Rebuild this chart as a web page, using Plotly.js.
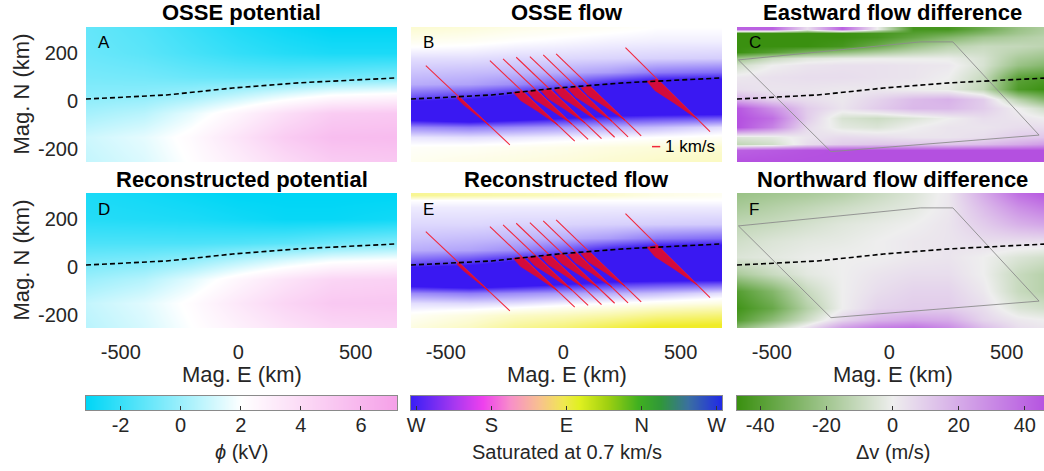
<!DOCTYPE html>
<html><head><meta charset="utf-8">
<script src="https://cdn.plot.ly/plotly-3.0.1.min.js"></script>
<style>html,body{margin:0;padding:0;background:#fff}#chart{width:1044px;height:471px}</style>
</head><body><div id="chart"></div>
<script>
// ---------------- DATA ----------------
const magE7  = [-648, -400, -200, 0, 200, 400, 676];
const magE10 = [-648, -500, -350, -200, -50, 100, 250, 400, 550, 676];

// Electric potential (kV)
const potN = [-254, -150, -50, 30, 100, 200, 308];
const potOSSE = [
  [0.8, 1.3, 2.1, 3.0, 4.0, 4.8, 5.0],
  [1.0, 1.5, 2.3, 3.5, 4.8, 5.6, 5.7],
  [0.2, 0.6, 1.5, 2.6, 3.8, 4.8, 5.0],
  [-0.4, -0.3, 0.0, 0.6, 1.3, 1.9, 2.2],
  [-0.7, -0.8, -1.0, -1.1, -1.1, -0.9, -0.6],
  [-1.0, -1.3, -1.7, -2.1, -2.4, -2.6, -2.6],
  [-1.1, -1.5, -2.0, -2.5, -2.9, -3.2, -3.2]
];
const potRecon = [
  [0.6, 1.2, 2.0, 2.8, 3.6, 4.2, 4.4],
  [0.8, 1.4, 2.2, 3.3, 4.3, 5.0, 5.1],
  [0.0, 0.5, 1.4, 2.5, 3.5, 4.3, 4.5],
  [-0.8, -0.6, -0.2, 0.5, 1.2, 1.8, 2.1],
  [-1.6, -1.6, -1.6, -1.5, -1.3, -0.9, -0.5],
  [-2.4, -2.5, -2.6, -2.8, -3.0, -3.0, -2.8],
  [-2.6, -2.8, -3.0, -3.2, -3.2, -3.2, -3.2]
];

// Westward flow speed (km/s, negative = eastward), colour saturated at 0.7 km/s
const flowN_OSSE = [-254, -190, -150, -110, -70, -30, 20, 70, 120, 180, 250, 308];
const flowOSSE = [
  [-0.05, -0.08, -0.10, -0.12, -0.15, -0.18, -0.20],
  [-0.02, -0.03, -0.05, -0.07, -0.10, -0.12, -0.15],
  [0.08, 0.10, 0.08, 0.05, 0.03, 0.00, -0.03],
  [0.35, 0.40, 0.35, 0.30, 0.25, 0.20, 0.10],
  [0.80, 0.90, 0.80, 0.70, 0.60, 0.55, 0.50],
  [1.00, 1.00, 1.00, 1.00, 1.00, 1.00, 1.00],
  [0.50, 0.60, 0.75, 0.90, 1.00, 1.00, 1.00],
  [0.25, 0.28, 0.35, 0.50, 0.70, 0.85, 0.90],
  [0.18, 0.20, 0.22, 0.25, 0.30, 0.40, 0.45],
  [0.10, 0.10, 0.12, 0.12, 0.13, 0.14, 0.15],
  [-0.05, -0.03, 0.00, 0.02, 0.04, 0.05, 0.05],
  [-0.15, -0.12, -0.08, -0.05, -0.03, 0.00, 0.00]
];
const flowN_Recon = [-254, -200, -150, -110, -70, -30, 20, 70, 120, 180, 250, 280, 298, 308];
const flowRecon = [
  [-0.10, -0.20, -0.35, -0.45, -0.60, -0.75, -0.80],
  [-0.03, -0.10, -0.18, -0.22, -0.28, -0.38, -0.45],
  [0.10, 0.12, 0.10, 0.05, 0.00, -0.05, -0.10],
  [0.35, 0.40, 0.35, 0.30, 0.25, 0.20, 0.10],
  [0.80, 0.90, 0.80, 0.70, 0.60, 0.55, 0.50],
  [1.00, 1.00, 1.00, 1.00, 1.00, 1.00, 1.00],
  [0.50, 0.60, 0.75, 0.90, 1.00, 1.00, 1.00],
  [0.25, 0.28, 0.35, 0.50, 0.70, 0.85, 0.90],
  [0.18, 0.20, 0.22, 0.25, 0.30, 0.40, 0.45],
  [0.12, 0.12, 0.13, 0.13, 0.14, 0.15, 0.16],
  [0.06, 0.06, 0.06, 0.06, 0.06, 0.06, 0.06],
  [0.00, 0.00, 0.00, 0.00, 0.00, 0.00, 0.00],
  [-0.35, -0.30, -0.25, -0.20, -0.15, -0.08, -0.04],
  [-0.35, -0.30, -0.25, -0.20, -0.15, -0.08, -0.04]
];

// Flow differences (m/s)
const dEastN = [-254, -205, -180, -150, -110, -70, -30, 10, 50, 100, 150, 180, 205, 230, 265, 285, 298, 308];
const dEast = [
  [47, 47, 47, 47, 47, 47, 47, 47, 47, 47],
  [42, 44, 46, 47, 47, 47, 47, 47, 47, 47],
  [-12, -8, 5, 10, 12, 12, 12, 15, 20, 25],
  [-5, -3, 3, 6, 5, 3, 3, 5, 10, 12],
  [47, 32, 6, -3, -5, 0, 3, 3, 5, 5],
  [47, 38, 10, -6, -9, -5, 0, 5, 3, 0],
  [45, 28, 10, 3, 10, 16, 16, 10, 0, -10],
  [18, 8, 5, 2, 8, 15, 18, 10, -15, -30],
  [5, 3, 3, 2, 2, 0, -2, -12, -42, -47],
  [2, 4, 5, 5, 4, 3, 0, -10, -38, -42],
  [-8, 0, 3, 4, 4, 3, 2, -6, -22, -28],
  [-22, -10, -4, -2, -1, -1, -1, -6, -18, -22],
  [-47, -40, -30, -24, -18, -12, -8, -8, -14, -18],
  [-47, -47, -47, -44, -34, -22, -14, -10, -11, -13],
  [-47, -47, -47, -47, -44, -36, -28, -20, -16, -13],
  [-47, -47, -47, -47, -44, -40, -36, -28, -20, -15],
  [42, 42, 5, 42, 0, -44, -44, -34, -22, -16],
  [42, 42, 5, 42, 0, -44, -44, -34, -22, -16]
];
const dNorthN = [-254, -220, -170, -100, -30, 40, 110, 180, 250, 308];
const dNorth = [
  [-25, -10, 5, 25, 35, 38, 30, 15, 5, 2],
  [-40, -25, -8, 8, 18, 22, 20, 8, 2, 0],
  [-45, -35, -15, 0, 8, 10, 10, 5, -5, -8],
  [-40, -28, -10, 0, 5, 8, 8, 2, -10, -15],
  [-18, -10, -3, 0, 3, 5, 5, 0, -10, -15],
  [-5, -3, -1, 0, 0, 2, 3, 0, -5, -8],
  [-8, -5, -3, -2, 0, 2, 3, 5, 5, 5],
  [-12, -10, -7, -4, -2, 0, 3, 10, 18, 22],
  [-18, -15, -12, -9, -6, -3, 2, 15, 28, 35],
  [-22, -20, -18, -15, -10, -5, 2, 20, 38, 45]
];

// Dashed boundary line (km)
const boundaryE = [-648, -305, -23, 264, 676];
const boundaryN = [8, 25, 54, 76, 96];

// Data-coverage outline (km)
const coverageE = [-642, 132, 271, 638, -248, -642];
const coverageN = [171, 246, 246, -142, -211, 171];

// Measurement tracks (km) and the envelope of their flow vectors
const trackStartE = [-585, -312, -256, -200, -142, -85, -30, 265];
const trackStartN = [147, 168, 175, 182, 185, 192, 196, 222];
const trackEndE   = [-227, 49, 106, 163, 219, 276, 332, 625];
const trackEndN   = [-183, -167, -160, -157, -151, -149, -145, -128];
const vecTopN     = [18, 42, 46, 50, 54, 58, 62, 90];
const vecTipN     = [-100, -100, -96, -92, -88, -84, -80, -75];
const vecWidthE   = [16, 48, 48, 48, 48, 48, 48, 58];

// Tick labels
const eTickVals = [-500, 0, 500], eTickText = ['-500', '0', '500'];
const nTickVals = [-200, 0, 200], nTickText = ['-200', '0', '200'];
const potTickVals = [-2, 0, 2, 4, 6], potTickText = ['-2', '0', '2', '4', '6'];
const dirTickVals = [0, 1, 2, 3, 4], dirTickText = ['W', 'S', 'E', 'N', 'W'];
const dvTickVals = [-40, -20, 0, 20, 40], dvTickText = ['-40', '-20', '0', '20', '40'];

// ---------------- STYLE ----------------
const W = 1044, H = 471;
const FONT = 'Liberation Sans, Arial, Helvetica, sans-serif';
const potRange = [-3.15, 7.2], flowSat = 0.7, dvRange = [-47, 47];
const potScale = [[0, '#00d6f6'], [0.5, '#ffffff'], [1, '#f5a0e8']];
const flowScale = [[0, '#f0ec28'], [0.5, '#ffffff'], [1, '#3a18f2']];
const dvScale = [[0, '#3a9010'], [0.5, '#eeeeee'], [1, '#b450e0']];
const hueScale = [[0, '#3a1ff5'], [0.14, '#a838f0'], [0.23, '#ee40ee'], [0.32, '#f890c8'],
  [0.41, '#f8c090'], [0.49, '#f0e850'], [0.54, '#e0f020'], [0.63, '#a0d010'], [0.73, '#40b020'],
  [0.8, '#309838'], [0.89, '#3a70a0'], [1, '#2028e8']];

const E0 = -648, E1 = 676;
const colPx = [[86, 397], [411, 722], [737, 1044]];
const E1c = E0 + (E1 - E0) * (1044 - 737) / 311;
const rowPx = [[27, 162], [193, 328]];
const barPx = [396, 410];
const dx = p => [p[0] / W, p[1] / W];
const dy = p => [1 - p[1] / H, 1 - p[0] / H];

const traces = [];
function heat(xa, ya, x, y, z, scale, zmin, zmax) {
  traces.push({type: 'heatmap', x: x, y: y, z: z, colorscale: scale, zmin: zmin, zmax: zmax,
    zsmooth: 'best', showscale: false, hoverinfo: 'skip', xaxis: xa, yaxis: ya});
}
heat('x', 'y', magE7, potN, potOSSE, potScale, potRange[0], potRange[1]);
heat('x2', 'y2', magE7, flowN_OSSE, flowOSSE, flowScale, -flowSat, flowSat);
heat('x3', 'y3', magE10, dEastN, dEast, dvScale, dvRange[0], dvRange[1]);
heat('x4', 'y4', magE7, potN, potRecon, potScale, potRange[0], potRange[1]);
heat('x5', 'y5', magE7, flowN_Recon, flowRecon, flowScale, -flowSat, flowSat);
heat('x6', 'y6', magE10, dNorthN, dNorth, dvScale, dvRange[0], dvRange[1]);

// coverage outline in difference panels
['3', '6'].forEach(k => traces.push({type: 'scatter', mode: 'lines', x: coverageE, y: coverageN,
  xaxis: 'x' + k, yaxis: 'y' + k, line: {color: '#8c8c8c', width: 0.9}, hoverinfo: 'skip'}));

// tracks + flow vector envelopes in flow panels
function trackAt(i, n) {
  const t = (trackStartN[i] - n) / (trackStartN[i] - trackEndN[i]);
  return trackStartE[i] + t * (trackEndE[i] - trackStartE[i]);
}
['2', '5'].forEach(k => {
  const tx = [], ty = [];
  for (let i = 0; i < trackStartE.length; i++) {
    tx.push(trackStartE[i], trackEndE[i], null);
    ty.push(trackStartN[i], trackEndN[i], null);
  }
  traces.push({type: 'scatter', mode: 'lines', x: tx, y: ty, xaxis: 'x' + k, yaxis: 'y' + k,
    line: {color: '#f2283c', width: 1.1}, hoverinfo: 'skip'});
  for (let i = 0; i < trackStartE.length; i++) {
    const top = vecTopN[i], tip = vecTipN[i], d = top - tip, w = vecWidthE[i];
    const ns = [top, top - 0.05 * d, top - 0.28 * d, top - 0.6 * d, tip, top];
    const off = [0, 0.9 * w, w, 0.5 * w, 0, 0];
    traces.push({type: 'scatter', mode: 'lines', fill: 'toself',
      x: ns.map((n, j) => trackAt(i, n) - off[j]), y: ns,
      xaxis: 'x' + k, yaxis: 'y' + k, fillcolor: 'rgba(228,10,40,0.9)',
      line: {color: '#e40a28', width: 0.6}, hoverinfo: 'skip'});
  }
});

// dashed boundary in every panel
['', '2', '3', '4', '5', '6'].forEach(k => traces.push({type: 'scatter', mode: 'lines',
  x: boundaryE, y: boundaryN, xaxis: 'x' + k, yaxis: 'y' + k,
  line: {color: '#000000', width: 1.6, dash: '5px,3px'}, hoverinfo: 'skip'}));

// colour bars
function bar(xa, ya, lo, hi, scale) {
  traces.push({type: 'heatmap', x: [lo, hi], y: [0, 1], z: [[lo, hi], [lo, hi]],
    colorscale: scale, zmin: lo, zmax: hi, zsmooth: 'best', showscale: false, hoverinfo: 'skip',
    xaxis: xa, yaxis: ya});
}
bar('x7', 'y7', potRange[0], potRange[1], potScale);
bar('x8', 'y8', -0.07, 4.07, hueScale);
bar('x9', 'y9', dvRange[0], dvRange[1], dvScale);

// ---------------- LAYOUT ----------------
const tickFont = {family: FONT, size: 20, color: '#262626'};
const layout = {width: W, height: H, margin: {l: 0, r: 0, t: 0, b: 0},
  paper_bgcolor: '#ffffff', plot_bgcolor: '#ffffff', showlegend: false, font: {family: FONT}};
const panels = [
  {k: '', c: 0, r: 0}, {k: '2', c: 1, r: 0}, {k: '3', c: 2, r: 0},
  {k: '4', c: 0, r: 1}, {k: '5', c: 1, r: 1}, {k: '6', c: 2, r: 1}];
panels.forEach(p => {
  const xr = p.c === 2 ? [E0, E1c] : [E0, E1];
  layout['xaxis' + p.k] = {domain: dx(colPx[p.c]), range: xr, anchor: 'y' + p.k,
    showgrid: false, zeroline: false, showline: false, ticks: '',
    tickvals: eTickVals, ticktext: eTickText, showticklabels: p.r === 1,
    tickfont: tickFont, ticklabelstandoff: 10};
  layout['yaxis' + p.k] = {domain: dy(rowPx[p.r]), range: [-254, 308], anchor: 'x' + p.k,
    showgrid: false, zeroline: false, showline: false, ticks: '',
    tickvals: nTickVals, ticktext: nTickText, showticklabels: p.c === 0,
    tickfont: tickFont, ticklabelstandoff: 7};
});
const bars = [
  {k: '7', c: 0, range: potRange, tv: potTickVals, tt: potTickText},
  {k: '8', c: 1, range: [-0.07, 4.07], tv: dirTickVals, tt: dirTickText},
  {k: '9', c: 2, range: [dvRange[0], dvRange[0] + (dvRange[1] - dvRange[0]) * 307 / 311],
    tv: dvTickVals, tt: dvTickText}];
bars.forEach(b => {
  layout['xaxis' + b.k] = {domain: dx(colPx[b.c]), range: b.range, anchor: 'y' + b.k,
    showgrid: false, zeroline: false, showline: true, mirror: true, linecolor: '#8a8a8a',
    linewidth: 1, ticks: 'inside', ticklen: 4, tickcolor: '#333333', tickwidth: 1,
    tickvals: b.tv, ticktext: b.tt, tickfont: tickFont, ticklabelstandoff: -3};
  layout['yaxis' + b.k] = {domain: dy(barPx), range: [0, 1], anchor: 'x' + b.k,
    showgrid: false, zeroline: false, showline: true, mirror: true, linecolor: '#8a8a8a',
    linewidth: 1, ticks: '', showticklabels: false};
});

const ann = [];
function pa(text, x, y, opts) {
  ann.push(Object.assign({text: text, x: x / W, y: 1 - y / H, xref: 'paper', yref: 'paper',
    showarrow: false, xanchor: 'center', yanchor: 'middle',
    font: {family: FONT, size: 22, color: '#000000'}}, opts || {}));
}
const colC = [241.5, 566.5, 892.5];
const titles = [['OSSE potential', 'OSSE flow', 'Eastward flow difference'],
  ['Reconstructed potential', 'Reconstructed flow', 'Northward flow difference']];
const titleY = [13, 179];
titles.forEach((row, r) => row.forEach((t, c) =>
  pa(t, colC[c], titleY[r], {font: {family: FONT, size: 22, color: '#000000', weight: 'bold'}})));
const letters = [['A', 'B', 'C'], ['D', 'E', 'F']];
letters.forEach((row, r) => row.forEach((t, c) =>
  pa(t, colPx[c][0] + 10, rowPx[r][0] + 16, {xanchor: 'left', font: {family: FONT, size: 17, color: '#000000'}})));
[94.5, 260.5].forEach(yc => pa('Mag. N (km)', 21, yc, {textangle: -90, font: {family: FONT, size: 22, color: '#262626'}}));
colC.forEach(xc => pa('Mag. E (km)', xc, 374, {font: {family: FONT, size: 22, color: '#262626'}}));
const barTitles = ['<i>ϕ</i> (kV)', 'Saturated at 0.7 km/s', 'Δv (m/s)'];
barTitles.forEach((t, c) => pa(t, colC[c], 452, {font: {family: FONT, size: 20, color: '#262626'}}));
// speed scale key in panel B
ann.push({text: '1 km/s', x: 425, y: -190, xref: 'x2', yref: 'y2', showarrow: false,
  xanchor: 'left', yanchor: 'middle', font: {family: FONT, size: 17, color: '#000000'}});
layout.annotations = ann;
layout.shapes = [{type: 'line', xref: 'x2', yref: 'y2', x0: 378, x1: 413, y0: -190, y1: -190,
  line: {color: '#f2283c', width: 1.5}}];

Plotly.newPlot('chart', traces, layout, {staticPlot: true, displayModeBar: false});
</script></body></html>
